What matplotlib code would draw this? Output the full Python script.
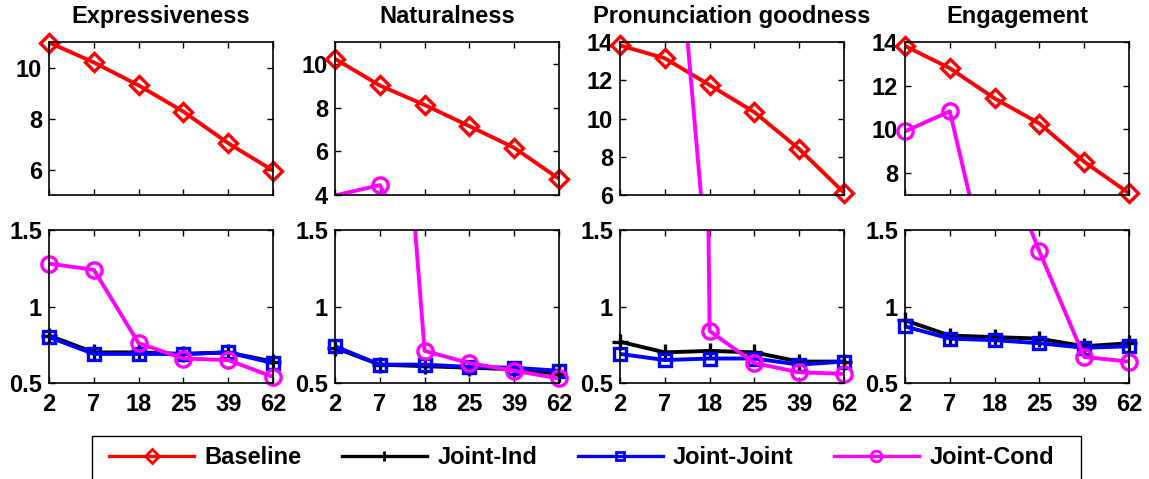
import matplotlib
matplotlib.use("Agg")
import numpy as np
import matplotlib.pyplot as plt
from matplotlib.lines import Line2D
from matplotlib.patches import Rectangle

plt.rcParams['font.family'] = ['Liberation Sans', 'DejaVu Sans']
plt.rcParams['font.weight'] = 'bold'

x_labels = ["2", "7", "18", "25", "39", "62"]
titles = ["Expressiveness", "Naturalness", "Pronunciation goodness", "Engagement"]

# Values per metric
baseline = [
    [10.98, 10.2, 9.3, 8.27, 7.03, 5.96],
    [10.23, 9.01, 8.12, 7.15, 6.16, 4.74],
    [13.82, 13.15, 11.75, 10.33, 8.4, 6.12],
    [13.82, 12.8, 11.42, 10.27, 8.52, 7.08],
]
joint_ind = [
    [0.81, 0.70, 0.70, 0.69, 0.70, 0.64],
    [0.73, 0.62, 0.61, 0.60, 0.59, 0.56],
    [0.77, 0.70, 0.71, 0.70, 0.64, 0.64],
    [0.91, 0.81, 0.80, 0.79, 0.74, 0.76],
]
joint_joint = [
    [0.80, 0.69, 0.69, 0.69, 0.70, 0.63],
    [0.74, 0.62, 0.62, 0.605, 0.60, 0.58],
    [0.69, 0.65, 0.66, 0.66, 0.62, 0.64],
    [0.87, 0.79, 0.78, 0.76, 0.73, 0.74],
]
joint_cond = [
    [1.28, 1.24, 0.76, 0.66, 0.65, 0.54],
    [3.98, 4.45, 0.71, 0.63, 0.58, 0.53],
    [26.0, 27.7, 0.84, 0.63, 0.57, 0.56],
    [9.91, 10.83, 2.1, 1.36, 0.67, 0.64],
]

top_ylims = [(5, 11), (4, 11), (6, 14), (7, 14)]
top_yticks = [[6, 8, 10], [4, 6, 8, 10], [6, 8, 10, 12, 14], [8, 10, 12, 14]]

W, H = 1149, 479
fig = plt.figure(figsize=(W / 100, H / 100), dpi=100)

col_left = [49, 335, 620, 905]
col_w = 224
top_box = (42, 195)
bot_box = (230, 383)
FS = 17

styles = [
    dict(color='#ff0000', marker='D', ms=9.5),
    dict(color='#000000', marker='+', ms=11),
    dict(color='#0000ff', marker='s', ms=9),
    dict(color='#ff00ff', marker='o', ms=11),
]
names = ["Baseline", "Joint-Ind", "Joint-Joint", "Joint-Cond"]

def make_ax(left, box):
    t, b = box
    return fig.add_axes([left / W, 1 - b / H, col_w / W, (b - t) / H])

xs = np.arange(len(x_labels))
for i in range(4):
    series = [baseline[i], joint_ind[i], joint_joint[i], joint_cond[i]]
    for row, box in enumerate([top_box, bot_box]):
        ax = make_ax(col_left[i], box)
        lo, hi = top_ylims[i] if row == 0 else (0.5, 1.5)
        for s, st in zip(series, styles):
            s = np.asarray(s, dtype=float)
            ax.plot(xs, s, lw=2.8, color=st['color'], clip_on=True)
            inside = (s >= lo - 1e-9) & (s <= hi + 1e-9)
            ax.plot(xs[inside], s[inside], ls='none', marker=st['marker'],
                    ms=st['ms'], mfc='none', mec=st['color'], mew=2.4,
                    clip_on=False)
        ax.set_xlim(0, 5)
        ax.set_ylim(lo, hi)
        ax.set_xticks(xs)
        if row == 0:
            ax.set_yticks(top_yticks[i])
            ax.set_xticklabels([])
            ax.set_title(titles[i], fontsize=FS, fontweight='bold', pad=13.5)
        else:
            ax.set_yticks([0.5, 1, 1.5])
            ax.set_yticklabels(["0.5", "1", "1.5"])
            ax.set_xticklabels(x_labels)
        ax.tick_params(direction='in', top=True, right=True, length=4, width=1,
                       labelsize=FS)
        ax.tick_params(axis='y', pad=5)
        ax.tick_params(axis='x', pad=7)
        for lab in ax.get_xticklabels() + ax.get_yticklabels():
            lab.set_fontweight('bold')
        for sp in ax.spines.values():
            sp.set_linewidth(1.2)

# legend box (extends past the bottom edge of the canvas)
fig.patches.append(Rectangle((92 / W, -0.05), (1081 - 92) / W, 0.05 + (479 - 436) / H,
                             transform=fig.transFigure, fill=False,
                             edgecolor='black', lw=1.0))
handles = [Line2D([0], [0], lw=2.4, color=st['color'], marker=st['marker'],
                  ms=st['ms'] * 0.7, mfc='none', mew=2) for st in styles]
leg = fig.legend(handles, names, loc='center left', ncol=4,
                 bbox_to_anchor=(109 / W, 1 - 458 / H),
                 frameon=False, prop={'weight': 'bold', 'size': FS},
                 handlelength=3.6, handletextpad=0.45, columnspacing=1.7,
                 borderpad=0, borderaxespad=0)

fig.savefig("out.png", dpi=100)
